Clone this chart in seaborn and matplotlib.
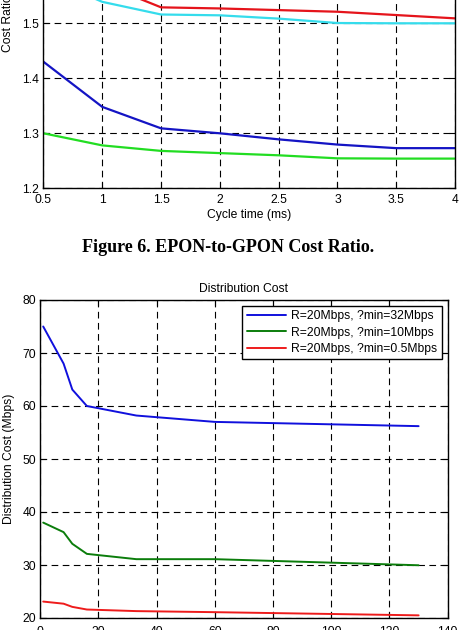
import matplotlib
matplotlib.use("Agg")
import matplotlib.pyplot as plt
import seaborn as sns
import pandas as pd

# ---- Top chart data (EPON-to-GPON cost ratio) ----
cycle_time = [0.5, 1.0, 1.5, 2.0, 2.5, 3.0, 3.5, 4.0]
ratio_red = [1.65, 1.572, 1.529, 1.527, 1.524, 1.521, 1.515, 1.509]
ratio_cyan = [1.585, 1.539, 1.516, 1.5145, 1.5085, 1.5005, 1.500, 1.500]
ratio_blue = [1.430, 1.348, 1.309, 1.300, 1.289, 1.2795, 1.273, 1.273]
ratio_green = [1.300, 1.278, 1.268, 1.264, 1.260, 1.2545, 1.254, 1.254]
top_xticks = [0.5, 1, 1.5, 2, 2.5, 3, 3.5, 4]
top_yticks = [1.2, 1.3, 1.4, 1.5, 1.6, 1.7, 1.8]

# ---- Bottom chart data (Distribution cost) ----
dist_x = [1, 8, 11, 16, 33, 60, 130]
cost_32 = [75.0, 68.0, 63.1, 60.0, 58.2, 57.0, 56.2]
cost_10 = [38.0, 36.2, 34.0, 32.1, 31.1, 31.1, 29.95]
cost_05 = [23.1, 22.7, 22.1, 21.6, 21.3, 21.1, 20.5]
legend_labels = ["R=20Mbps, ?min=32Mbps", "R=20Mbps, ?min=10Mbps",
                 "R=20Mbps, ?min=0.5Mbps"]
bot_xticks = [0, 20, 40, 60, 80, 100, 120, 140]
bot_yticks = [20, 30, 40, 50, 60, 70, 80]

sns.set_style("ticks")
plt.rcParams['font.family'] = ['Liberation Sans', 'DejaVu Sans']
plt.rcParams['text.color'] = 'black'
plt.rcParams['axes.labelcolor'] = 'black'
plt.rcParams['xtick.color'] = 'black'
plt.rcParams['ytick.color'] = 'black'

fig = plt.figure(figsize=(4.6, 6.3), dpi=100)

def style_axes(ax, xpad):
    ax.grid(True, color='black', linestyle=(0, (6, 4)), linewidth=0.8)
    ax.set_axisbelow(True)
    for s in ax.spines.values():
        s.set_visible(True)
        s.set_color('black')
        s.set_linewidth(1.0)
    ax.tick_params(direction='in', top=True, right=True, length=4,
                   width=0.8, labelsize=8.7, colors='black', pad=3)
    ax.tick_params(axis='x', pad=xpad)

# Top axes (cropped at figure top)
W, H = 460, 630
ax1 = fig.add_axes([43.5 / W, 1 - 188.3 / H, (455 - 43.5) / W, 330 / H])
df_top = pd.DataFrame({
    "x": cycle_time * 4,
    "y": ratio_red + ratio_cyan + ratio_blue + ratio_green,
    "s": ["red"] * 8 + ["cyan"] * 8 + ["blue"] * 8 + ["green"] * 8,
})
pal_top = {"red": "#e5141b", "cyan": "#35dcec", "blue": "#1414c4", "green": "#22dd22"}
sns.lineplot(data=df_top, x="x", y="y", hue="s", palette=pal_top, legend=False,
             ax=ax1, linewidth=1.6, sort=False, estimator=None)
ax1.set_xlim(0.5, 4)
ax1.set_ylim(1.2, 1.8)
ax1.set_xticks(top_xticks)
ax1.set_xticklabels([f"{v:g}" for v in top_xticks])
ax1.set_yticks(top_yticks)
ax1.set_yticklabels([f"{v:.1f}" for v in top_yticks])
style_axes(ax1, 4)
ax1.set_xlabel("Cycle time (ms)", fontsize=8.7, labelpad=2)
ax1.set_ylabel("Cost Ratio", fontsize=8.7)
ax1.yaxis.set_label_coords((14 - 43.5) / 411.5, 0.5)

fig.text(228 / W, 1 - 248 / H, "Figure 6. EPON-to-GPON Cost Ratio.",
         ha='center', va='center', fontsize=13, fontweight='bold',
         color='black', family=['Liberation Serif', 'DejaVu Serif'])

# Bottom axes
ax2 = fig.add_axes([40.3 / W, 12 / H, 407.4 / W, 318 / H])
df_bot = pd.DataFrame({
    "x": dist_x * 3,
    "y": cost_32 + cost_10 + cost_05,
    "s": [legend_labels[0]] * 7 + [legend_labels[1]] * 7 + [legend_labels[2]] * 7,
})
pal_bot = {legend_labels[0]: "#1010dd", legend_labels[1]: "#0b7d0b",
           legend_labels[2]: "#ee1c1c"}
sns.lineplot(data=df_bot, x="x", y="y", hue="s", palette=pal_bot, ax=ax2,
             linewidth=1.4, sort=False, estimator=None)
ax2.set_xlim(0, 140)
ax2.set_ylim(20, 80)
ax2.set_xticks(bot_xticks)
ax2.set_yticks(bot_yticks)
style_axes(ax2, 6)
ax2.set_xlabel("")
ax2.set_ylabel("Distribution Cost (Mbps)", fontsize=8.7)
ax2.yaxis.set_label_coords((15 - 40.3) / 407.4, 0.5)
ax2.set_title("Distribution Cost", fontsize=8.7, pad=6)
leg = ax2.legend(loc='upper right', fontsize=8.7, frameon=True, fancybox=False,
                 borderaxespad=0.5, handlelength=3.3, labelspacing=0.35,
                 borderpad=0.35, handletextpad=0.4)
leg.get_frame().set_edgecolor('black')
leg.get_frame().set_linewidth(1.0)
leg.get_frame().set_alpha(1.0)
for t in leg.get_texts():
    t.set_color('black')

fig.savefig("out.png", dpi=100)
